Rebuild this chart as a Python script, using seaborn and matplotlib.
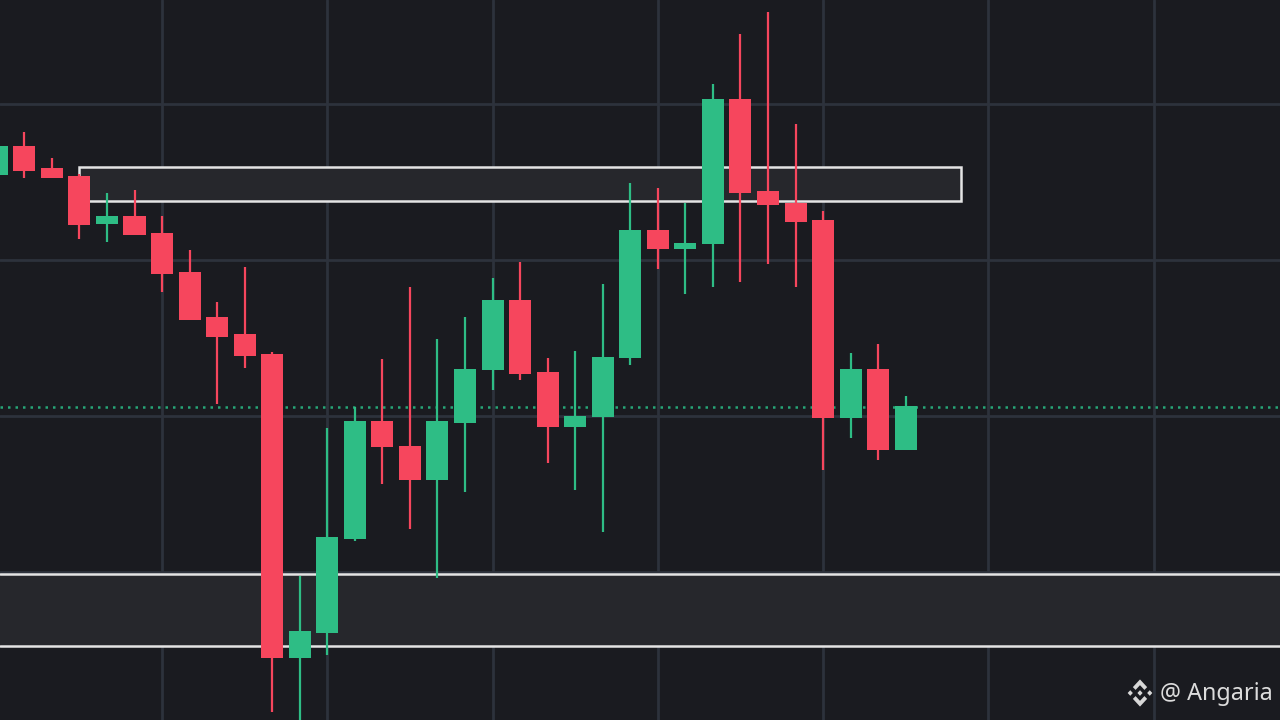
import matplotlib
matplotlib.use("Agg")
import matplotlib.pyplot as plt
from matplotlib.patches import Rectangle, Polygon
import numpy as np
import pandas as pd
import seaborn as sns

# candle data (price units, one candle per period)
opens = [545, 574, 552, 544, 496, 504, 487, 448, 403, 386, 366, 62, 87, 181, 299, 274, 240,
         297, 350, 420, 348, 293, 303, 362, 490, 471, 476, 621, 529, 517, 500, 302, 351, 270]
highs = [575, 588, 562, 546, 527, 530, 504, 470, 418, 453, 368, 144, 292, 313, 361, 433, 381,
         403, 442, 458, 362, 369, 436, 537, 532, 517, 636, 686, 708, 596, 509, 367, 376, 324]
lows = [544, 542, 542, 481, 478, 485, 428, 400, 316, 352, 8, -5, 65, 179, 236, 191, 142,
        228, 330, 340, 257, 230, 188, 355, 451, 426, 433, 438, 456, 433, 250, 282, 260, 270]
closes = [574, 549, 542, 495, 504, 485, 446, 400, 383, 364, 62, 89, 183, 299, 273, 240, 299,
          351, 420, 346, 293, 304, 363, 490, 471, 477, 621, 527, 515, 498, 302, 351, 270, 314]

# zones and reference level
zone_upper = (3, 35, 519, 553)    # x from, x to, price low, price high
zone_lower = (74, 146)
last_price = 313

df = pd.DataFrame({"open": opens, "high": highs, "low": lows, "close": closes})
df["idx"] = np.arange(len(df))
df["up"] = df["close"] >= df["open"]

GREEN = "#2ebd85"
RED = "#f6465d"
BG = "#1a1b20"
GRID = "#2d323c"
ZONE = "#26272c"
EDGE = "#e4e4e4"

sns.set_theme(style="dark", rc={"axes.facecolor": BG, "figure.facecolor": BG})

fig = plt.figure(figsize=(12.8, 7.2), dpi=100)
ax = fig.add_axes([0, 0, 1, 1])
ax.set_facecolor(BG)

ax.set_xlim(0.116, 46.59)
ax.set_ylim(0, 720)
ax.set_xticks([6, 12, 18, 24, 30, 36, 42])
ax.set_yticks([148, 304, 460, 616])
ax.grid(True, color=GRID, linewidth=2.0)
ax.set_axisbelow(True)
for s in ax.spines.values():
    s.set_visible(False)
ax.tick_params(left=False, bottom=False, labelleft=False, labelbottom=False)

# zones
x0, x1, lo, hi = zone_upper
ax.add_patch(Rectangle((x0, lo), x1 - x0, hi - lo, facecolor=ZONE, edgecolor=EDGE,
                       linewidth=1.8, zorder=1))
ax.axhspan(zone_lower[0], zone_lower[1], color=ZONE, zorder=1, lw=0)
ax.axhline(zone_lower[0], color=EDGE, lw=1.8, zorder=1.5)
ax.axhline(zone_lower[1], color=EDGE, lw=1.8, zorder=1.5)

# last price dotted line
ax.axhline(last_price, color="#27a577", lw=1.8, ls=(0, (1, 2)), zorder=1.6)

# candles
colors = np.where(df["up"], GREEN, RED)
ax.vlines(df["idx"], df["low"], df["high"], colors=colors, linewidth=1.6, zorder=3)
body_lo = df[["open", "close"]].min(axis=1)
body_h = (df["open"] - df["close"]).abs().clip(lower=2)
ax.bar(df["idx"], body_h, bottom=body_lo, width=0.8, color=colors, zorder=4, linewidth=0)

# watermark logo
lax = fig.add_axes([1127 / 1280, 1 - 707 / 720, 26 / 1280, 28 / 720])
lax.set_xlim(-1, 1)
lax.set_ylim(-1, 1)
lax.axis("off")
logo_col = "#d8d8d8"
top = [(-0.55, 0.42), (0, 0.97), (0.55, 0.42), (0.34, 0.22), (0, 0.56), (-0.34, 0.22)]
bot = [(x, -y) for x, y in top]
for pts in (top, bot):
    lax.add_patch(Polygon(pts, closed=True, color=logo_col, lw=0))
for cx in (-0.75, 0.0, 0.75):
    d = 0.2
    lax.add_patch(Polygon([(cx - d, 0), (cx, d), (cx + d, 0), (cx, -d)], closed=True,
                          color=logo_col, lw=0))

fig.text(1160 / 1280, 1 - 694 / 720, "@ Angaria", color="#dcdcdc", fontsize=16.8,
         ha="left", va="center", family=["Noto Sans", "DejaVu Sans"])

fig.savefig("out.png", dpi=100, facecolor=BG)
